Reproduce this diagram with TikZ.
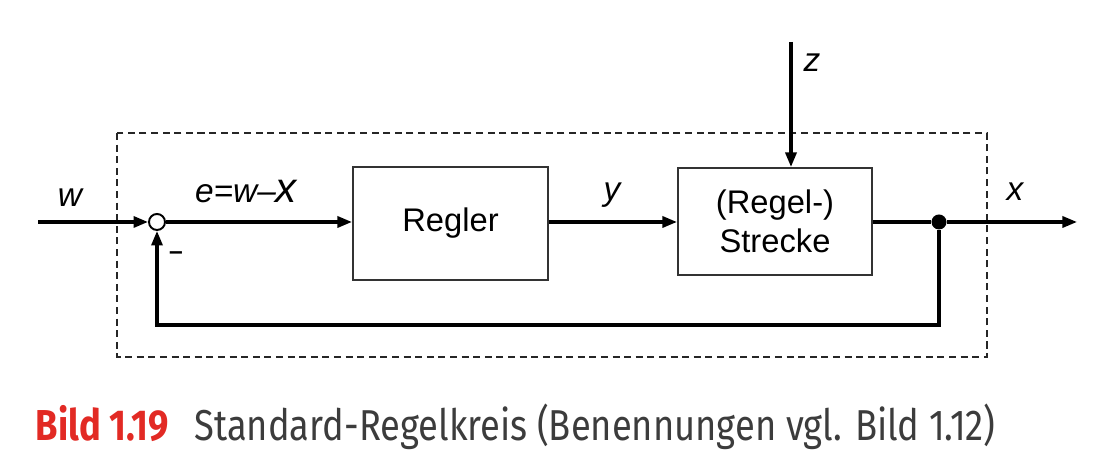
\documentclass[tikz,border=0pt]{standalone}
\usepackage{fontspec}
\setmainfont{Liberation Sans}
\newfontfamily\captionfont[FakeStretch=0.84]{Fira Sans}
\usepackage{tikz}
\usetikzlibrary{arrows.meta,positioning,calc}
\definecolor{BildRed}{RGB}{226,42,36}
\definecolor{CaptionGray}{RGB}{60,60,60}
\tikzset{
  blockbox/.style={draw=black!80, line width=0.55pt, align=center,
    font=\fontsize{9.3}{11}\selectfont, minimum width=1.95cm, minimum height=1.1cm,
    inner sep=0pt},
  sigline/.style={line width=0.9pt, draw=black},
  sigarrow/.style={sigline, -{Triangle[length=1.45mm,width=1.1mm]}},
  sumpoint/.style={circle, draw=black, line width=0.55pt, fill=white,
    minimum size=1.6mm, inner sep=0pt},
  branchdot/.style={circle, fill=black, minimum size=1.5mm, inner sep=0pt},
  siglabel/.style={font=\fontsize{9.5}{11}\selectfont\itshape, inner sep=0pt},
  borderline/.style={dashed, dash pattern=on 2pt off 1.3pt, line width=0.4pt, draw=black!85}
}
\begin{document}
\begin{tikzpicture}[x=0.01cm, y=-0.01cm]
  \useasboundingbox (0,0) rectangle (1093,459);
  % system boundary
  \draw[borderline] (117,133) rectangle (987,357);
  % blocks
  \node[sumpoint] (sum) at (157,222) {};
  \node[blockbox, minimum width=1.95cm, minimum height=1.13cm] (regler) at (450.5,223.5) {Regler};
  \node[blockbox, minimum width=1.94cm, minimum height=1.07cm] (strecke) at (775,221.5) {(Regel-)\\Strecke};
  \node[branchdot] (branch) at (939,222) {};
  % free ends
  \coordinate (win) at (38,222);
  \coordinate (xout) at (1077,222);
  \coordinate (zin) at (791,42);
  \coordinate (fbcorner) at (939,325);
  % signals
  \draw[sigarrow] (win) -- (sum);
  \draw[sigarrow] (sum) -- (regler.west |- sum);
  \draw[sigarrow] (regler.east |- sum) -- (strecke.west |- sum);
  \draw[sigline] (strecke.east |- branch) -- (branch);
  \draw[sigarrow] (branch) -- (xout);
  \draw[sigarrow] (zin) -- (zin |- strecke.north);
  \draw[sigarrow] (branch) -- (fbcorner) -| (sum);
  % labels
  \node[siglabel] (wlab) at (70,198) {w};
  \node[siglabel] (elab) at (246,192) {e=w--\fontsize{12}{12}\selectfont x};
  \node[siglabel] (ylab) at (612,195) {y};
  \node[siglabel] (zlab) at (812,63) {z};
  \node[siglabel] (xlab) at (1015,192) {x};
  \node[font=\fontsize{7}{7}\selectfont\bfseries, inner sep=0pt] (minus) at (176,256) {--};
  % caption
  \node[anchor=base west, inner sep=0pt, font=\captionfont\fontsize{12.3}{14}\selectfont] (caption) at (35,441)
    {\textcolor{BildRed}{\bfseries Bild 1.19}\hspace{0.6em}\textcolor{CaptionGray}{Standard-Regelkreis (Benennungen vgl. Bild 1.12)}};
\end{tikzpicture}
\end{document}
